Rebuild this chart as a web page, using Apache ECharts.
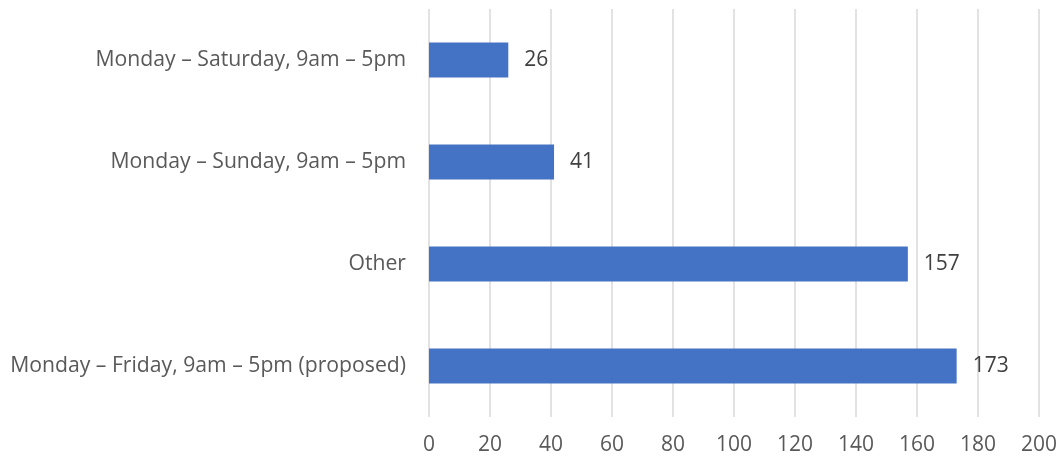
<!DOCTYPE html>
<html><head><meta charset="utf-8">
<script src="https://cdn.jsdelivr.net/npm/echarts@6/dist/echarts.min.js"></script>
<style>html,body{margin:0;padding:0;background:#fff}#c{width:1060px;height:463px}</style>
</head><body><div id="c"></div>
<script>
const categories = ["Monday – Friday, 9am – 5pm (proposed)", "Other", "Monday – Sunday, 9am – 5pm", "Monday – Saturday, 9am – 5pm"];
const values = [173, 157, 41, 26];
const xTicks = [0, 20, 40, 60, 80, 100, 120, 140, 160, 180, 200];

const FONT = 'Open Sans';
const chart = echarts.init(document.getElementById('c'));
chart.setOption({
  animation: false,
  grid: { left: 429, right: 21, top: 9, bottom: 46, containLabel: false },
  xAxis: {
    type: 'value', min: xTicks[0], max: xTicks[xTicks.length - 1], interval: 20,
    axisLine: { show: false }, axisTick: { show: false },
    axisLabel: { color: '#595959', fontSize: 21, fontFamily: FONT, margin: 18 },
    splitLine: { show: true, lineStyle: { color: '#d9d9d9', width: 1.5 } }
  },
  yAxis: {
    type: 'category', data: categories,
    axisLine: { show: false }, axisTick: { show: false },
    axisLabel: { color: '#595959', fontSize: 21.2, fontFamily: FONT, margin: 23 }
  },
  series: [{
    type: 'bar', data: values, barWidth: 35,
    itemStyle: { color: '#4472C4' },
    label: { show: true, position: 'right', distance: 16, color: '#404040', fontSize: 21, fontFamily: FONT }
  }]
});
</script></body></html>
